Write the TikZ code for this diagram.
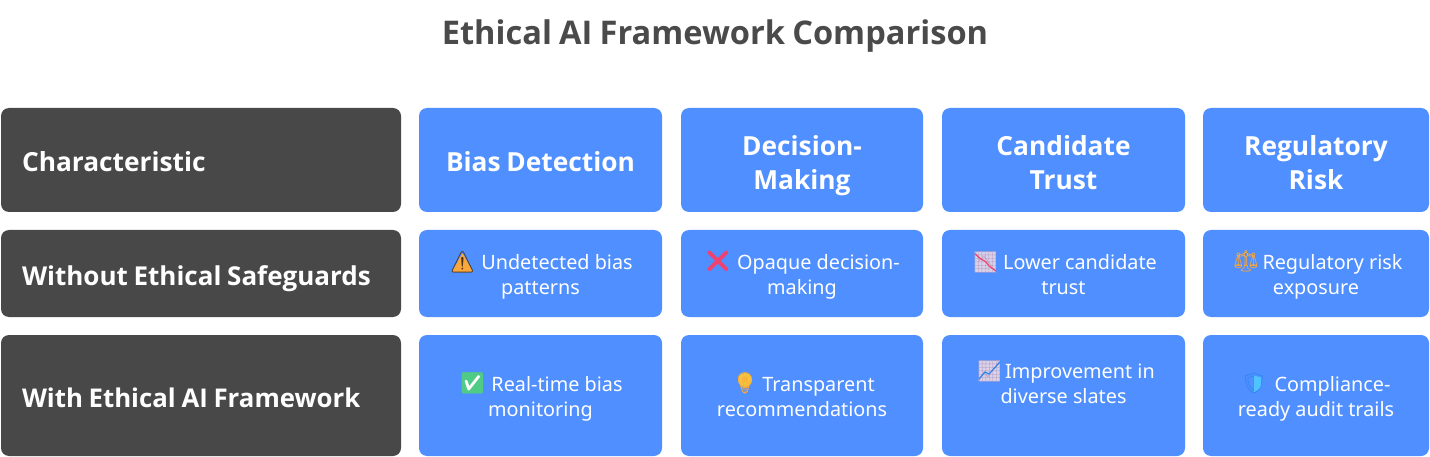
\documentclass[tikz,border=0pt]{standalone}
\usepackage{fontspec}
\setmainfont{Noto Sans}
\newfontfamily\headfont{Open Sans}[WordSpace=0.85]
\newfontfamily\emojifont{Noto Emoji}
\definecolor{darkcell}{HTML}{484848}
\definecolor{bluecell}{HTML}{4F8FFF}
\definecolor{titlegray}{HTML}{4A4A4A}
\definecolor{warnfill}{HTML}{F9A63A}
\definecolor{crossred}{HTML}{F0426E}
\definecolor{chartfill}{HTML}{DCCFE8}
\definecolor{chartgrid}{HTML}{B9A9C9}
\definecolor{checkgreen}{HTML}{4FCB85}
\definecolor{bulbfill}{HTML}{F7C33C}
\definecolor{shieldleft}{HTML}{2F86EF}
\definecolor{shieldright}{HTML}{4FC3FF}
\newcommand{\emogap}{\hspace*{33pt}}
\begin{document}
\begin{tikzpicture}[x=1pt,y=-1pt,
		title/.style={font=\headfont\fontsize{32.6}{38}\selectfont\bfseries,text=titlegray,inner sep=0pt},
		rowcell/.style={fill=darkcell,rounded corners=8pt,text=white,align=flush left,inner sep=0pt,minimum width=400pt,text width=358pt,text height=24pt,text depth=0pt,font=\headfont\fontsize{26.3}{32}\selectfont\bfseries},
		headcell/.style={fill=bluecell,rounded corners=8pt,text=white,align=center,inner sep=0pt,minimum height=104pt,text height=60pt,text depth=0pt,font=\headfont\fontsize{26.3}{34}\selectfont\bfseries},
		bodycell/.style={fill=bluecell,rounded corners=8pt,text=white,align=center,inner sep=0pt,text height=41pt,text depth=0pt,font=\fontsize{19.8}{25}\selectfont},
		emo/.style={inner sep=0pt,font=\emojifont\fontsize{21}{21}\selectfont}]
	\useasboundingbox (0,0) rectangle (1430,457);
	\node[title] (heading) at (715,36) {Ethical AI Framework Comparison};
	% first column
	\node[rowcell,minimum height=104pt] (char) at (201,160) {Characteristic};
	\node[rowcell,minimum height=87pt,font=\headfont\fontsize{26}{32}\selectfont\bfseries] (without) at (201,273.5) {Without Ethical Safeguards};
	\node[rowcell,minimum height=121pt,font=\headfont\fontsize{25.8}{32}\selectfont\bfseries] (with) at (201,395.5) {With Ethical AI Framework};
	% header row
	\node[headcell,minimum width=243pt,text height=24pt] (bias) at (540.5,160) {Bias Detection};
	\node[headcell,minimum width=242pt] (decision) at (802,160) {Decision-\\Making};
	\node[headcell,minimum width=243pt] (trust) at (1063.5,160) {Candidate\\Trust};
	\node[headcell,minimum width=226pt] (risk) at (1316,160) {Regulatory\\Risk};
	% without safeguards
	\node[bodycell,minimum width=243pt,minimum height=87pt,text height=42pt] (biaswithout) at (540.5,273.5) {\emogap Undetected bias\\patterns};
	\node[bodycell,minimum width=242pt,minimum height=87pt,text height=42pt] (decisionwithout) at (802,273.5) {\emogap Opaque decision-\\making};
	\node[bodycell,minimum width=243pt,minimum height=87pt,text height=42pt] (trustwithout) at (1063.5,273.5) {\emogap Lower candidate\\trust};
	\node[bodycell,minimum width=226pt,minimum height=87pt,text height=42pt] (riskwithout) at (1316,273.5) {\emogap Regulatory risk\\exposure};
	% with framework
	\node[bodycell,minimum width=243pt,minimum height=121pt] (biaswith) at (540.5,395.5) {\emogap Real-time bias\\monitoring};
	\node[bodycell,minimum width=242pt,minimum height=121pt] (decisionwith) at (802,395.5) {\emogap Transparent\\recommendations};
	\node[bodycell,minimum width=243pt,minimum height=121pt,text height=16pt] (trustwith) at (1063.5,395.5) {\emogap Improvement in\\diverse slates};
	\node[bodycell,minimum width=226pt,minimum height=121pt] (riskwith) at (1316,395.5) {\emogap Compliance-\\ready audit trails};
	% icons
	\fill[warnfill,rounded corners=1pt] (462.5,253) -- (473,272) -- (452,272) -- cycle;
	\node[emo,text=black!70!warnfill] (warn) at (462.5,262) {⚠};
	\node[emo,text=crossred] (cross) at (718,261.5) {❌};
	\fill[chartfill] (975,252) rectangle (996,272);
	\node[emo,text=chartgrid] (chartdown) at (985.5,262) {📉};
	\draw[crossred,line width=1.2pt] (975,254) -- (981,259) -- (986,262) -- (989,266) -- (996,271);
	\node[emo,text=warnfill] (scales) at (1246,261.5) {⚖};
	\fill[white] (464,375) rectangle (481,392);
	\node[emo,text=checkgreen] (check) at (472.5,383.5) {✅};
	\fill[bulbfill] (745,380) circle (7pt);
	\node[emo,text=warnfill] (bulb) at (745,383) {💡};
	\fill[chartfill] (979,361) rectangle (1000,381);
	\node[emo,text=chartgrid] (chartup) at (989.5,371) {📈};
	\draw[shieldleft,line width=1.2pt] (979,379) -- (985,372) -- (989,374) -- (1000,362);
	\node[emo,text=shieldleft] (shield) at (1254,383.5) {🛡};
	\fill[shieldright] (1254,375.5) -- (1261,377.5) -- (1261,384) .. controls (1261,388) and (1257,391) .. (1254,392) -- cycle;
\end{tikzpicture}
\end{document}
